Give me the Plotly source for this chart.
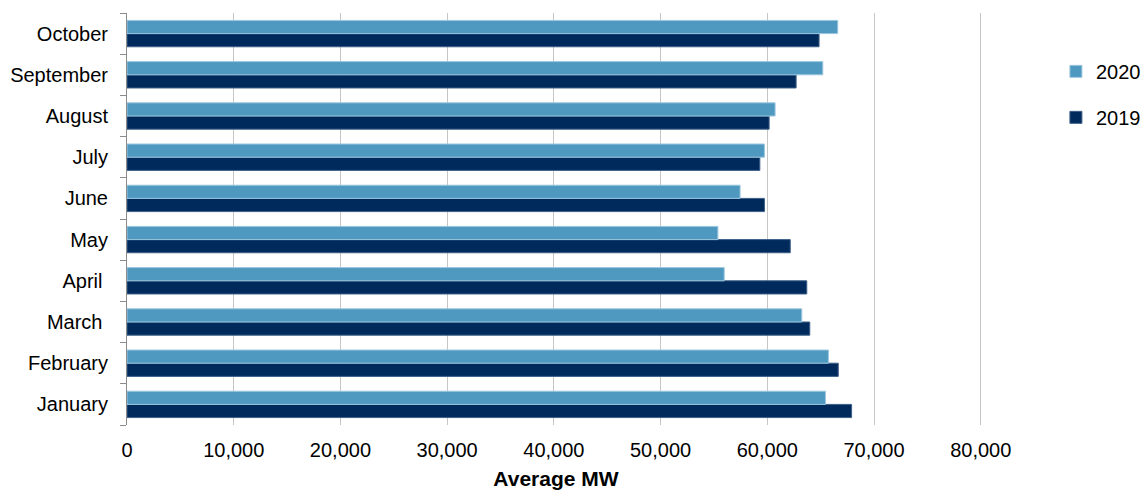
import plotly.graph_objects as go

# Monthly average load (MW), 2019 vs 2020
months = ["January", "February", "March\u00a0", "April\u00a0", "May", "June",
          "July", "August", "September", "October"]
avg_2019 = [67900, 66650, 63980, 63700, 62150, 59730, 59300, 60170, 62700, 64850]
avg_2020 = [65450, 65730, 63230, 55960, 55370, 57450, 59730, 60730, 65200, 66600]
x_ticks = [0, 10000, 20000, 30000, 40000, 50000, 60000, 70000, 80000]

FONT = "Liberation Sans, Arial, sans-serif"

fig = go.Figure()
fig.add_trace(go.Bar(
    y=months, x=avg_2019, orientation="h", name="2019",
    marker=dict(color="#002A5C", line=dict(color="#3d5f88", width=1)),
    legendgroup="b", legendrank=2,
))
fig.add_trace(go.Bar(
    y=months, x=avg_2020, orientation="h", name="2020",
    marker=dict(color="#4F99C1", line=dict(color="#9cc6de", width=1)),
    legendgroup="a", legendrank=1,
))

fig.update_layout(
    width=1144, height=494,
    margin=dict(l=127, r=159, t=13, b=69, autoexpand=False),
    paper_bgcolor="white", plot_bgcolor="white",
    barmode="group", bargap=0.36, bargroupgap=0,
    font=dict(family=FONT, size=20, color="#000000"),
    showlegend=True,
    legend=dict(
        xref="container", yref="container",
        x=0.923, y=0.895, xanchor="left", yanchor="top",
        traceorder="grouped", tracegroupgap=17,
        font=dict(family=FONT, size=20, color="#000000"),
        bgcolor="rgba(0,0,0,0)",
    ),
)

fig.update_xaxes(
    range=[0, 80400], tickvals=x_ticks,
    ticktext=[f"{v:,}" for v in x_ticks],
    showgrid=True, gridcolor="#c6c6c6", gridwidth=1,
    zeroline=False, showline=False, ticks="",
    tickfont=dict(size=20), ticklabelstandoff=11,
    title=dict(text="<b>Average MW</b>", font=dict(size=21), standoff=11),
)
fig.update_yaxes(
    categoryorder="array", categoryarray=months,
    showgrid=False, zeroline=False,
    showline=True, linecolor="#8c8c8c", linewidth=1,
    ticks="outside", tickson="boundaries", ticklen=6, tickcolor="#8c8c8c",
    tickfont=dict(size=20), ticklabelstandoff=14,
)

fig.write_html("out.html")
